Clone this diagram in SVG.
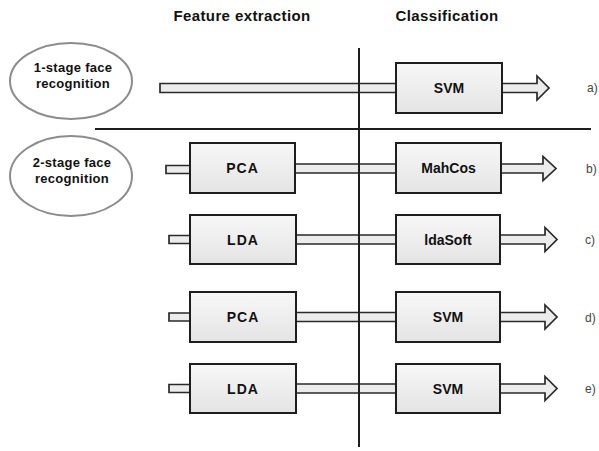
<svg xmlns="http://www.w3.org/2000/svg" width="599" height="451" viewBox="0 0 599 451">
<defs>
<linearGradient id="bg" x1="0" y1="0" x2="0" y2="1">
<stop offset="0" stop-color="#f7f7f7"/>
<stop offset="1" stop-color="#e4e4e4"/>
</linearGradient>
</defs>
<style>
.box{fill:url(#bg);stroke:#1e1e1e;stroke-width:2}
.ell{fill:#ffffff;stroke:#8c8c8c;stroke-width:2}
.shaft{fill:#ececec;stroke:#2a2a2a;stroke-width:1.7;stroke-linejoin:miter}
.t{font-family:"Liberation Sans",Arial,sans-serif;font-weight:bold;fill:#111;text-anchor:middle}
.lab{font-family:"Liberation Sans",Arial,sans-serif;font-size:12px;fill:#444}
.line{stroke:#1e1e1e;stroke-width:2;fill:none}
</style>
<rect width="599" height="451" fill="#ffffff"/>
<g id="headers">
<text class="t" x="242" y="21" font-size="15" letter-spacing="0.4">Feature extraction</text>
<text class="t" x="447" y="21" font-size="15" letter-spacing="0.4">Classification</text>
</g>
<g id="connectors">
<polygon class="shaft" points="160,83.5 396,83.5 396,92.5 160,92.5"/>
<polygon class="shaft" points="502,83.5 537,83.5 537,76 549,88 537,100 537,92.5 502,92.5"/>
<polygon class="shaft" points="166,165.5 190,165.5 190,173.5 166,173.5"/>
<polygon class="shaft" points="295,164 396,164 396,173 295,173"/>
<polygon class="shaft" points="501,164 543,164 543,156.5 556,168.5 543,180.5 543,173 501,173"/>
<polygon class="shaft" points="169,235.5 190,235.5 190,243.5 169,243.5"/>
<polygon class="shaft" points="296,235 396,235 396,244 296,244"/>
<polygon class="shaft" points="500,235 545,235 545,227.5 557,239.5 545,251.5 545,244 500,244"/>
<polygon class="shaft" points="169,313 190,313 190,321 169,321"/>
<polygon class="shaft" points="296,312.5 396,312.5 396,321.5 296,321.5"/>
<polygon class="shaft" points="500,312.5 545,312.5 545,305 557,317 545,329 545,321.5 500,321.5"/>
<polygon class="shaft" points="169,384.5 190,384.5 190,392.5 169,392.5"/>
<polygon class="shaft" points="296,384 396,384 396,393 296,393"/>
<polygon class="shaft" points="500,384 545,384 545,376.5 557,388.5 545,400.5 545,393 500,393"/>
</g>
<g id="ellipse1">
<ellipse class="ell" cx="71" cy="81" rx="61" ry="38"/>
<text class="t" x="73" y="72" font-size="13" letter-spacing="0.3">1-stage face</text>
<text class="t" x="73" y="88" font-size="13" letter-spacing="0.3">recognition</text>
</g>
<g id="ellipse2">
<ellipse class="ell" cx="71" cy="176" rx="61" ry="40"/>
<text class="t" x="72" y="167" font-size="13" letter-spacing="0.3">2-stage face</text>
<text class="t" x="72" y="183" font-size="13" letter-spacing="0.3">recognition</text>
</g>
<g id="svm-a">
<rect class="box" x="396" y="63" width="106" height="50"/>
<text class="t" x="449" y="93" font-size="14">SVM</text>
</g>
<g id="pca-b">
<rect class="box" x="190" y="143" width="105" height="50"/>
<text class="t" x="242.5" y="173" font-size="14" letter-spacing="1">PCA</text>
</g>
<g id="mahcos-b">
<rect class="box" x="396" y="143" width="105" height="50"/>
<text class="t" x="448.5" y="173" font-size="14">MahCos</text>
</g>
<g id="lda-c">
<rect class="box" x="190" y="215" width="106" height="49"/>
<text class="t" x="243" y="244.5" font-size="14" letter-spacing="1">LDA</text>
</g>
<g id="idasoft-c">
<rect class="box" x="396" y="215" width="104" height="49"/>
<text class="t" x="448" y="244.5" font-size="14">ldaSoft</text>
</g>
<g id="pca-d">
<rect class="box" x="190" y="292" width="106" height="50"/>
<text class="t" x="243" y="322" font-size="14" letter-spacing="1">PCA</text>
</g>
<g id="svm-d">
<rect class="box" x="396" y="292" width="104" height="50"/>
<text class="t" x="448" y="322" font-size="14">SVM</text>
</g>
<g id="lda-e">
<rect class="box" x="190" y="364" width="106" height="49"/>
<text class="t" x="243" y="393.5" font-size="14" letter-spacing="1">LDA</text>
</g>
<g id="svm-e">
<rect class="box" x="396" y="364" width="104" height="49"/>
<text class="t" x="448" y="393.5" font-size="14">SVM</text>
</g>
<g id="dividers">
<line class="line" x1="359" y1="48" x2="359" y2="447"/>
<line class="line" x1="95" y1="129" x2="591" y2="129"/>
</g>
<g id="row-labels">
<text class="lab" x="587" y="92">a)</text>
<text class="lab" x="586" y="173">b)</text>
<text class="lab" x="585" y="244">c)</text>
<text class="lab" x="585" y="322">d)</text>
<text class="lab" x="585" y="393">e)</text>
</g>
</svg>
